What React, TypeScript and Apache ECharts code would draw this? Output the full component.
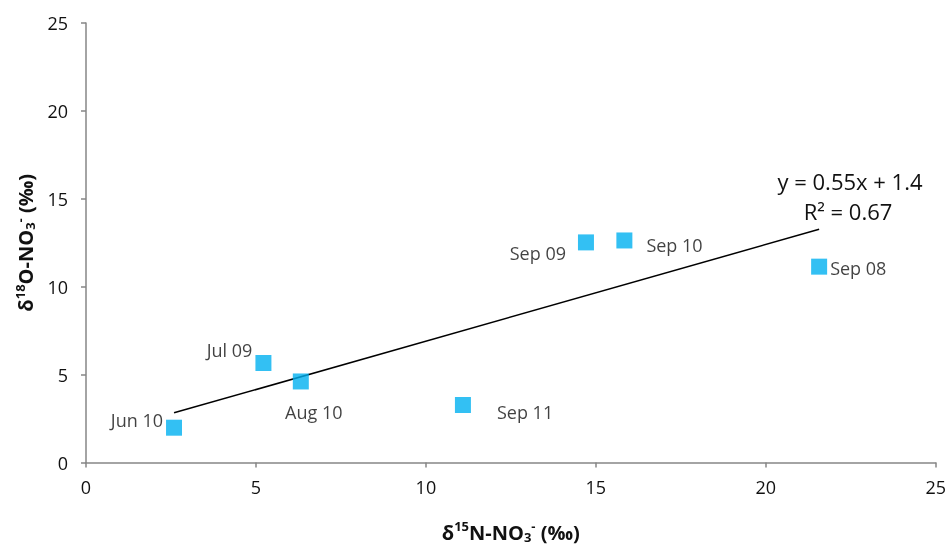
import React, { useEffect, useRef } from "react";
import * as echarts from "echarts";

const sampleNames = ["Jun 10", "Jul 09", "Aug 10", "Sep 11", "Sep 09", "Sep 10", "Sep 08"];
const d15N = [2.59, 5.22, 6.32, 11.09, 14.71, 15.84, 21.57];
const d18O = [1.98, 5.66, 4.61, 3.27, 12.52, 12.63, 11.14];
const trendSlope = 0.55;
const trendIntercept = 1.4;
const rSquared = 0.67;
const axisTicks = [0, 5, 10, 15, 20, 25];

// label placement (layout only)
const labelPlacement: Record<string, { align: string; offset: number[] }> = {
  "Jun 10": { align: "right", offset: [-11, -8] },
  "Jul 09": { align: "right", offset: [-11, -13] },
  "Aug 10": { align: "center", offset: [13, 31] },
  "Sep 11": { align: "left", offset: [34, 7] },
  "Sep 09": { align: "right", offset: [-20, 11] },
  "Sep 10": { align: "left", offset: [22, 5] },
  "Sep 08": { align: "left", offset: [11, 1] },
};

const FONT = "'Open Sans', sans-serif";
const TEXT = "#111111";
const AXIS = "#868686";

export default function App() {
  const ref = useRef<HTMLDivElement>(null);
  useEffect(() => {
    if (!ref.current) return;
    const chart = echarts.init(ref.current, null, { renderer: "svg" });
    const minX = Math.min(...d15N);
    const maxX = Math.max(...d15N);
    const trend = [
      [minX, trendSlope * minX + trendIntercept],
      [maxX, trendSlope * maxX + trendIntercept],
    ];
    const titleRich = {
      b: { fontFamily: FONT, fontWeight: "bold", fontSize: 20, color: TEXT },
      sup: { fontFamily: FONT, fontWeight: "bold", fontSize: 13, color: TEXT, padding: [0, 0, 12, 0] },
      sub: { fontFamily: FONT, fontWeight: "bold", fontSize: 13, color: TEXT, padding: [9, 0, 0, 0] },
    };
    chart.setOption({
      animation: false,
      textStyle: { fontFamily: FONT },
      grid: { left: 86, right: 13, top: 23, bottom: 79, containLabel: false },
      xAxis: {
        type: "value",
        min: axisTicks[0],
        max: axisTicks[axisTicks.length - 1],
        interval: 5,
        name: "{b|δ}{sup|15}{b|N-NO}{sub|3}{sup|-}{b| (‰)}",
        nameLocation: "middle",
        nameGap: 57,
        nameTextStyle: { rich: titleRich },
        axisLine: { lineStyle: { color: AXIS, width: 1.5 } },
        axisTick: { show: true, length: 5, lineStyle: { color: AXIS, width: 1.5 } },
        axisLabel: { color: TEXT, fontSize: 18, margin: 15, fontFamily: FONT },
        splitLine: { show: false },
      },
      yAxis: {
        type: "value",
        min: axisTicks[0],
        max: axisTicks[axisTicks.length - 1],
        interval: 5,
        name: "{b|δ}{sup|18}{b|O-NO}{sub|3}{sup|-}{b| (‰)}",
        nameLocation: "middle",
        nameGap: 40,
        nameRotate: 90,
        nameTextStyle: { rich: titleRich },
        axisLine: { show: true, lineStyle: { color: AXIS, width: 1.5 } },
        axisTick: { show: true, length: 5, lineStyle: { color: AXIS, width: 1.5 } },
        axisLabel: { color: TEXT, fontSize: 18, margin: 18, fontFamily: FONT },
        splitLine: { show: false },
      },
      series: [
        {
          type: "line",
          data: trend,
          showSymbol: false,
          symbol: "none",
          lineStyle: { color: "#000000", width: 1.5 },
          silent: true,
          z: 2,
        },
        {
          type: "scatter",
          symbol: "rect",
          symbolSize: 16,
          itemStyle: { color: "#00B0F0" },
          z: 3,
          data: sampleNames.map((name, i) => ({
            name,
            value: [d15N[i], d18O[i]],
            label: {
              show: true,
              position: "inside",
              formatter: name,
              align: labelPlacement[name].align,
              verticalAlign: "middle",
              offset: labelPlacement[name].offset,
              color: TEXT,
              textBorderWidth: 0,
              fontSize: 18,
              fontFamily: FONT,
            },
          })),
        },
      ],
      graphic: [
        {
          type: "text",
          x: 850,
          y: 181,
          style: {
            text: `y = ${trendSlope}x + ${trendIntercept}`,
            fill: TEXT,
            font: `22px ${FONT}`,
            textAlign: "center",
            textVerticalAlign: "middle",
          },
        },
        {
          type: "text",
          x: 848,
          y: 211,
          style: {
            text: `R² = ${rSquared}`,
            fill: TEXT,
            font: `22px ${FONT}`,
            textAlign: "center",
            textVerticalAlign: "middle",
          },
        },
      ],
    });
    return () => chart.dispose();
  }, []);
  return (
    <div
      ref={ref}
      style={{ position: "fixed", left: 0, top: 0, width: 949, height: 548 }}
    />
  );
}
